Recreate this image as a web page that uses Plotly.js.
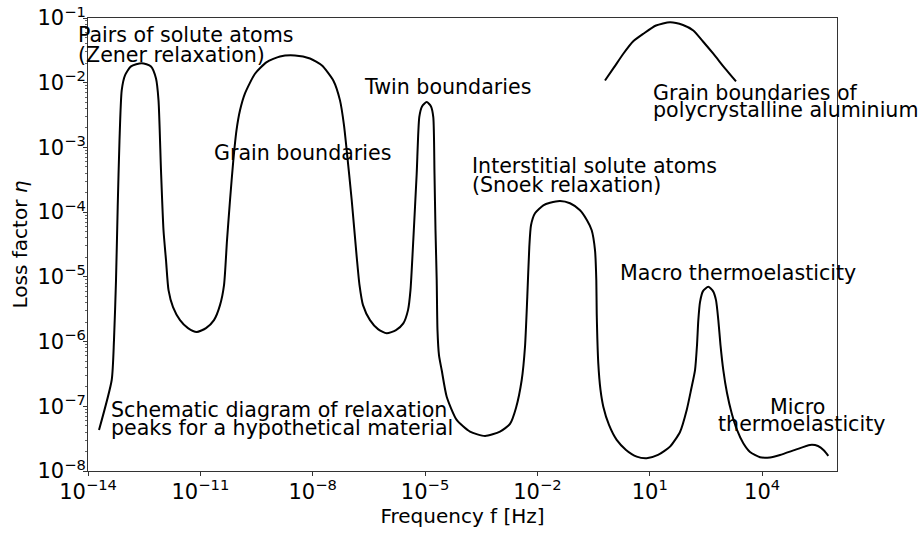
<!DOCTYPE html>
<html>
<head>
<meta charset="utf-8">
<script src="https://cdn.plot.ly/plotly-3.0.1.min.js"></script>
<style>
  html, body { margin: 0; padding: 0; background: #fff; }
  #chart { width: 919px; height: 534px; }
</style>
</head>
<body>
<div id="chart"></div>
<script>
// Schematic loss-factor spectrum: log10 of frequency [Hz] and log10 of loss factor.
const mainLogFreq = [
  -13.706, -13.367, -13.306, -13.252, -13.207, -13.159, -13.100, -13.012, -12.852, -12.566,
  -12.318, -12.184, -12.117, -12.051, -11.984, -11.917, -11.850, -11.730, -11.543, -11.330,
  -11.097, -10.849, -10.636, -10.475, -10.368, -10.288, -10.208, -10.120, -10.035, -9.941,
  -9.808, -9.541, -9.228, -8.873, -8.473, -8.072, -7.752, -7.450, -7.271, -7.164,
  -7.092, -6.958, -6.825, -6.750, -6.657, -6.470, -6.256, -6.024, -5.776, -5.581,
  -5.455, -5.389, -5.314, -5.223, -5.154, -5.081, -4.956, -4.841, -4.780, -4.748,
  -4.721, -4.689, -4.668, -4.628, -4.556, -4.422, -4.155, -3.800, -3.399, -2.999,
  -2.732, -2.572, -2.419, -2.331, -2.270, -2.216, -2.171, -2.064, -1.842, -1.663,
  -1.396, -1.129, -0.862, -0.676, -0.550, -0.462, -0.427, -0.416, -0.374, -0.315,
  -0.240, -0.088, 0.117, 0.366, 0.652, 0.919, 1.221, 1.541, 1.808, 1.987,
  2.102, 2.209, 2.262, 2.297, 2.342, 2.422, 2.563, 2.689, 2.769, 2.831,
  2.889, 2.964, 3.063, 3.188, 3.330, 3.498, 3.677, 3.944, 4.211, 4.478,
  4.879, 5.279, 5.493, 5.653, 5.768
];
const mainLogLoss = [
  -7.366, -6.594, -5.977, -5.051, -3.920, -2.890, -2.119, -1.887, -1.748, -1.698,
  -1.748, -1.934, -2.273, -3.353, -4.279, -4.742, -5.205, -5.468, -5.668, -5.792,
  -5.853, -5.792, -5.668, -5.437, -5.128, -4.434, -3.816, -3.199, -2.736, -2.427,
  -2.165, -1.861, -1.682, -1.594, -1.579, -1.625, -1.733, -1.965, -2.273, -2.659,
  -3.045, -3.816, -4.691, -5.128, -5.437, -5.668, -5.807, -5.873, -5.823, -5.719,
  -5.514, -5.205, -4.434, -3.404, -2.531, -2.366, -2.299, -2.366, -2.531, -3.404,
  -4.279, -5.051, -5.823, -6.208, -6.440, -6.852, -7.211, -7.392, -7.458, -7.392,
  -7.273, -7.026, -6.594, -6.080, -5.309, -4.537, -4.202, -4.017, -3.894, -3.855,
  -3.827, -3.863, -3.971, -4.125, -4.279, -4.588, -5.051, -5.565, -6.336, -6.748,
  -7.006, -7.289, -7.520, -7.674, -7.778, -7.802, -7.752, -7.623, -7.397, -7.057,
  -6.748, -6.440, -6.054, -5.668, -5.390, -5.221, -5.154, -5.221, -5.360, -5.668,
  -6.054, -6.440, -6.795, -7.108, -7.366, -7.571, -7.705, -7.787, -7.790, -7.752,
  -7.674, -7.597, -7.613, -7.682, -7.767
];

// Grain-boundary peak of polycrystalline aluminium
const alLogFreq = [-0.195, 0.045, 0.294, 0.553, 0.828, 1.167, 1.541, 1.888, 2.163, 2.422, 2.697, 3.009, 3.303];
const alLogLoss = [-1.965, -1.764, -1.552, -1.363, -1.244, -1.116, -1.065, -1.108, -1.193, -1.363, -1.552, -1.779, -1.980];

// Decade exponents carrying tick labels
const xTickExp = [-14, -11, -8, -5, -2, 1, 4];
const yTickExp = [-8, -7, -6, -5, -4, -3, -2, -1];

const toLinear = arr => arr.map(v => Math.pow(10, v));
const powLabel = e => '10<sup>' + (e < 0 ? '\u2212' + (-e) : String(e)) + '</sup>';

const FONT = 'DejaVu Sans, Liberation Sans, sans-serif';
const AXIS_COLOR = '#333';

const lineStyle = { color: '#000', width: 2, shape: 'spline', smoothing: 0.6 };

const traces = [
  {
    x: toLinear(mainLogFreq), y: toLinear(mainLogLoss),
    type: 'scatter', mode: 'lines', line: lineStyle, hoverinfo: 'skip'
  },
  {
    x: toLinear(alLogFreq), y: toLinear(alLogLoss),
    type: 'scatter', mode: 'lines', line: lineStyle, hoverinfo: 'skip'
  }
];

// Peak labels: [text, x (log10 or paper), log10 y, anchor, x reference]
const labels = [
  ['Pairs of solute atoms', -0.016, -1.255, 'left', 'paper'],
  ['(Zener relaxation)', -0.016, -1.571, 'left', 'paper'],
  ['Grain boundaries', -10.681, -3.080, 'left', 'x'],
  ['Twin boundaries', -6.692, -2.062, 'left', 'x'],
  ['Grain boundaries of', 1.033, -2.165, 'left', 'x'],
  ['polycrystalline aluminium', 1.033, -2.427, 'left', 'x'],
  ['Interstitial solute atoms', -3.800, -3.287, 'left', 'x'],
  ['(Snoek relaxation)', -3.800, -3.585, 'left', 'x'],
  ['Macro thermoelasticity', 0.144, -4.943, 'left', 'x'],
  ['Micro', 4.945, -7.011, 'center', 'x'],
  ['thermoelasticity', 5.065, -7.269, 'center', 'x'],
  ['Schematic diagram of relaxation', -13.439, -7.052, 'left', 'x'],
  ['peaks for a hypothetical material', -13.439, -7.335, 'left', 'x']
];

const annotations = labels.map(([text, x, y, anchor, xref]) => ({
  text, x, y, xref, yref: 'y',
  xanchor: anchor, yanchor: 'middle', showarrow: false,
  font: { family: FONT, size: 20.6, color: '#000' }
}));

const layout = {
  width: 919, height: 534,
  margin: { l: 88, r: 82, t: 17.5, b: 63, pad: 0 },
  paper_bgcolor: '#fff', plot_bgcolor: '#fff',
  showlegend: false,
  font: { family: FONT, color: '#000' },
  xaxis: {
    type: 'log', range: [-14, 6], autorange: false,
    tickmode: 'array', tickvals: toLinear(xTickExp), ticktext: xTickExp.map(powLabel),
    showgrid: false, zeroline: false,
    showline: true, mirror: true, linecolor: AXIS_COLOR, linewidth: 1,
    ticks: 'outside', ticklen: 4, tickwidth: 1, tickcolor: AXIS_COLOR,
    ticklabelstandoff: -2,
    tickfont: { family: FONT, size: 21, color: '#000' },
    title: { text: 'Frequency f [Hz]', font: { family: FONT, size: 20, color: '#000' }, standoff: 3 }
  },
  yaxis: {
    type: 'log', range: [-8, -1], autorange: false,
    tickmode: 'array', tickvals: toLinear(yTickExp), ticktext: yTickExp.map(powLabel),
    showgrid: false, zeroline: false,
    showline: true, mirror: true, linecolor: AXIS_COLOR, linewidth: 1,
    ticks: 'outside', ticklen: 4, tickwidth: 1, tickcolor: AXIS_COLOR,
    ticklabelstandoff: -7,
    tickfont: { family: FONT, size: 21, color: '#000' },
    minor: { ticks: 'outside', ticklen: 2, tickcolor: '#666', showgrid: false, dtick: 'D1' },
    title: { text: 'Loss factor <i>η</i>', font: { family: FONT, size: 20, color: '#000' }, standoff: 4 }
  },
  annotations
};

Plotly.newPlot('chart', traces, layout, { staticPlot: true, displayModeBar: false });
</script>
</body>
</html>
